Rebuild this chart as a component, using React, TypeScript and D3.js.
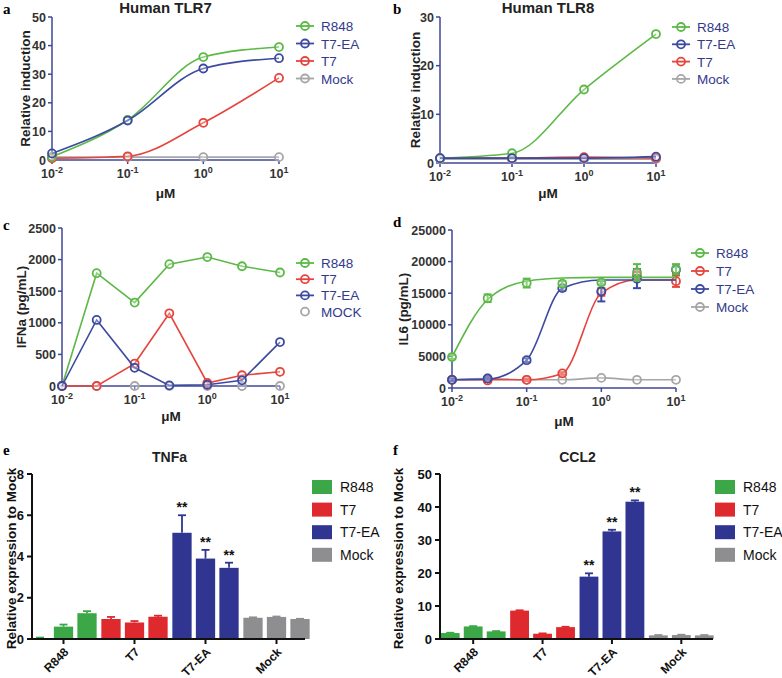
import React from 'react';
import * as d3 from 'd3';

// ---- data ----
const doseAB = [0.01, 0.1, 1, 10];
const tlr7R848 = [1.1, 14.0, 36.0, 39.5];
const tlr7T7EA = [2.3, 13.8, 32.0, 35.6];
const tlr7T7 = [0.6, 1.3, 13.0, 28.7];
const tlr7Mock = [1.0, 1.0, 1.0, 1.0];

const tlr8R848 = [1.0, 2.0, 15.1, 26.5];
const tlr8T7EA = [1.0, 1.0, 1.0, 1.3];
const tlr8T7 = [1.0, 1.0, 1.2, 1.0];
const tlr8Mock = [0.8, 0.8, 0.8, 0.8];

const doseCD = [0.01, 0.03, 0.1, 0.3, 1, 3, 10];
const ifnR848 = [0, 1785, 1320, 1928, 2040, 1895, 1796];
const ifnT7 = [0, 0, 355, 1150, 48, 170, 225];
const ifnT7EA = [0, 1045, 288, 10, 20, 90, 695];
const ifnMock = [0, 0, 0, 0, 0, 0, 0];

const il6R848 = [4900, 14200, 16600, 16500, 16700, 18300, 18800];
const il6R848Err = [300, 600, 700, 400, 300, 1300, 800];
const il6R848Fit = [4900, 14000, 16900, 17400, 17500, 17500, 17500];
const il6T7 = [1300, 1200, 1300, 2300, 15200, 17800, 16900];
const il6T7Err = [200, 200, 200, 200, 600, 600, 900];
const il6T7Fit = [1300, 1300, 1300, 2300, 15000, 17100, 17100];
const il6T7EA = [1300, 1500, 4400, 15800, 15300, 17300, 18700];
const il6T7EAErr = [200, 200, 300, 400, 1600, 1500, 500];
const il6T7EAFit = [1300, 1400, 4400, 15800, 17100, 17100, 17100];
const il6Mock = [1300, 1500, 1300, 1300, 1600, 1300, 1300];

const barGroups = ['R848', 'T7', 'T7-EA', 'Mock'];
const tnfValues = [[0.05, 0.6, 1.25], [0.97, 0.8, 1.08], [5.15, 3.9, 3.45], [1.03, 1.07, 0.97]];
const tnfErrors = [[0.02, 0.1, 0.1], [0.1, 0.07, 0.05], [0.85, 0.42, 0.25], [0.02, 0.02, 0.01]];
const ccl2Values = [[1.8, 3.8, 2.3], [8.6, 1.6, 3.6], [18.9, 32.6, 41.6], [1.1, 1.2, 1.1]];
const ccl2Errors = [[0.1, 0.1, 0.1], [0.1, 0.1, 0.1], [1.0, 0.5, 0.4], [0.1, 0.1, 0.1]];
const starGroup = 'T7-EA';

const yTicksA = [0, 10, 20, 30, 40, 50];
const yTicksB = [0, 10, 20, 30];
const yTicksC = [0, 500, 1000, 1500, 2000, 2500];
const yTicksD = [0, 5000, 10000, 15000, 20000, 25000];
const yTicksE = [0, 2, 4, 6, 8];
const yTicksF = [0, 10, 20, 30, 40, 50];
const xDecades = [0.01, 0.1, 1, 10];

// ---- style ----
const FONT = '"Liberation Sans", Arial, sans-serif';
const SERIF = '"Liberation Serif", "DejaVu Serif", serif';
const GREEN = '#5cb947';
const BLUE = '#3c4aa0';
const RED = '#e6453d';
const GRAY = '#a6a6a6';
const AXIS = '#3f4797';
const LEGEND_TEXT = '#323a8b';
const BAR_COLORS: Record<string, string> = {
  R848: '#3ba746',
  T7: '#de2a2f',
  'T7-EA': '#2f3591',
  Mock: '#8e8e90',
};

type Series = {
  name: string;
  color: string;
  x: number[];
  y: number[];
  err?: number[];
  fit?: number[];
  line?: boolean;
};

type LineProps = {
  x0: number;
  x1: number;
  yB: number;
  yT: number;
  yMax: number;
  yTicks: number[];
  title?: string;
  letter: string;
  letterX: number;
  letterY: number;
  ylabel: string;
  ylabelX: number;
  xlabelY: number;
  straight?: boolean;
  series: Series[];
  legend: { x: number; y: number; dy: number; items: Series[] };
};

const LinePanel = (p: LineProps) => {
  const xs = d3.scaleLog().domain([0.01, 10]).range([p.x0, p.x1]);
  const ys = d3.scaleLinear().domain([0, p.yMax]).range([p.yB, p.yT]);
  const line = d3
    .line<[number, number]>()
    .x((d) => xs(d[0]))
    .y((d) => ys(d[1]))
    .curve(p.straight ? d3.curveLinear : d3.curveMonotoneX);
  const cx = (p.x0 + p.x1) / 2;
  const cy = (p.yB + p.yT) / 2;

  return (
    <g fontFamily={FONT}>
      <text x={p.letterX} y={p.letterY} fontFamily={SERIF} fontWeight="bold" fontSize={15}>
        {p.letter}
      </text>
      {p.title && (
        <text x={cx} y={13} textAnchor="middle" fontWeight="bold" fontSize={15} fill="#222">
          {p.title}
        </text>
      )}
      {/* axes */}
      <line x1={p.x0} x2={p.x1} y1={p.yB} y2={p.yB} stroke={AXIS} strokeWidth={1.5} />
      <line x1={p.x0} x2={p.x0} y1={p.yB} y2={p.yT} stroke={AXIS} strokeWidth={1.5} />
      {p.yTicks.map((t) => (
        <g key={t}>
          <line x1={p.x0 - 4} x2={p.x0} y1={ys(t)} y2={ys(t)} stroke={AXIS} strokeWidth={1.5} />
          <text x={p.x0 - 6} y={ys(t) + 4.5} textAnchor="end" fontWeight="bold" fontSize={12.5} fill="#333">
            {t}
          </text>
        </g>
      ))}
      {xDecades.map((t) => (
        <g key={t}>
          <line x1={xs(t)} x2={xs(t)} y1={p.yB} y2={p.yB + 4} stroke={AXIS} strokeWidth={1.5} />
          <text x={xs(t)} y={p.yB + 18} textAnchor="middle" fontWeight="bold" fontSize={12.5} fill="#333">
            10
            <tspan dy={-5} fontSize={9}>
              {Math.round(Math.log10(t))}
            </tspan>
          </text>
        </g>
      ))}
      <text x={cx} y={p.xlabelY} textAnchor="middle" fontWeight="bold" fontSize={13.5} fill="#222">
        μM
      </text>
      <text
        transform={`translate(${p.ylabelX},${cy}) rotate(-90)`}
        textAnchor="middle"
        dominantBaseline="central"
        fontWeight="bold"
        fontSize={13.5}
        fill="#222"
      >
        {p.ylabel}
      </text>
      {/* series */}
      {p.series.map((s) => {
        const vals = s.fit ?? s.y;
        const pts: [number, number][] = s.x.map((x, i) => [x, vals[i]]);
        return (
          <g key={s.name}>
            {s.line !== false && (
              <path d={line(pts) ?? ''} fill="none" stroke={s.color} strokeWidth={1.6} />
            )}
            {s.err &&
              s.x.map((x, i) => (
                <g key={i} stroke={s.color} strokeWidth={2}>
                  <line x1={xs(x)} x2={xs(x)} y1={ys(s.y[i] - s.err![i])} y2={ys(s.y[i] + s.err![i])} />
                  <line x1={xs(x) - 4} x2={xs(x) + 4} y1={ys(s.y[i] + s.err![i])} y2={ys(s.y[i] + s.err![i])} />
                  <line x1={xs(x) - 4} x2={xs(x) + 4} y1={ys(s.y[i] - s.err![i])} y2={ys(s.y[i] - s.err![i])} />
                </g>
              ))}
            {s.x.map((x, i) => (
              <circle key={i} cx={xs(x)} cy={ys(s.y[i])} r={4} fill="white" fillOpacity={0.3} stroke={s.color} strokeWidth={1.8} />
            ))}
          </g>
        );
      })}
      {/* legend */}
      {p.legend.items.map((s, i) => {
        const y = p.legend.y + i * p.legend.dy;
        return (
          <g key={s.name}>
            {s.line !== false && (
              <line x1={p.legend.x} x2={p.legend.x + 18} y1={y} y2={y} stroke={s.color} strokeWidth={1.8} />
            )}
            <circle cx={p.legend.x + 9} cy={y} r={4} fill="none" stroke={s.color} strokeWidth={1.8} />
            <text x={p.legend.x + 25} y={y + 5} fontSize={13.5} fill={LEGEND_TEXT}>
              {s.name}
            </text>
          </g>
        );
      })}
    </g>
  );
};

type BarProps = {
  x0: number;
  x1: number;
  bandStart: number;
  bandEnd: number;
  yB: number;
  yT: number;
  yMax: number;
  yTicks: number[];
  title: string;
  letter: string;
  letterX: number;
  ylabelX: number;
  values: number[][];
  errors: number[][];
  legendX: number;
};

const BarPanel = (p: BarProps) => {
  const xg = d3.scaleBand().domain(barGroups).range([p.bandStart, p.bandEnd]).padding(0);
  const xi = d3
    .scaleBand<number>()
    .domain([0, 1, 2])
    .range([0, xg.bandwidth()])
    .paddingInner(0.18)
    .paddingOuter(0.1);
  const ys = d3.scaleLinear().domain([0, p.yMax]).range([p.yB, p.yT]);
  const bw = xi.bandwidth();
  return (
    <g fontFamily={FONT}>
      <text x={p.letterX} y={455} fontFamily={SERIF} fontWeight="bold" fontSize={15}>
        {p.letter}
      </text>
      <text x={(p.x0 + p.x1) / 2 + 1} y={462} textAnchor="middle" fontWeight="bold" fontSize={14} fill="#222">
        {p.title}
      </text>
      <text
        transform={`translate(${p.ylabelX},${(p.yB + p.yT) / 2 + 2}) rotate(-90)`}
        textAnchor="middle"
        dominantBaseline="central"
        fontWeight="bold"
        fontSize={13.5}
        fill="#111"
      >
        Relative expression to Mock
      </text>
      {barGroups.map((g, gi) =>
        p.values[gi].map((v, i) => {
          const x = (xg(g) ?? 0) + (xi(i) ?? 0);
          const top = ys(v + p.errors[gi][i]);
          const col = BAR_COLORS[g];
          return (
            <g key={`${g}${i}`}>
              <rect x={x} y={ys(v)} width={bw} height={p.yB - ys(v)} fill={col} />
              <line x1={x + bw / 2} x2={x + bw / 2} y1={ys(v)} y2={top} stroke={col} strokeWidth={1.8} />
              <line x1={x + bw / 2 - 4} x2={x + bw / 2 + 4} y1={top} y2={top} stroke={col} strokeWidth={1.8} />
              {g === starGroup && (
                <text x={x + bw / 2} y={top - 3} textAnchor="middle" fontWeight="bold" fontSize={14} fill="#111">
                  **
                </text>
              )}
            </g>
          );
        })
      )}
      <line x1={p.x0} x2={p.x1} y1={p.yB} y2={p.yB} stroke="#111" strokeWidth={2} />
      <line x1={p.x0} x2={p.x0} y1={p.yB} y2={p.yT} stroke="#111" strokeWidth={2} />
      {p.yTicks.map((t) => (
        <g key={t}>
          <line x1={p.x0 - 5} x2={p.x0} y1={ys(t)} y2={ys(t)} stroke="#111" strokeWidth={2} />
          <text x={p.x0 - 8} y={ys(t) + 4.5} textAnchor="end" fontWeight="bold" fontSize={13} fill="#111">
            {t}
          </text>
        </g>
      ))}
      {barGroups.map((g) => {
        const cx = (xg(g) ?? 0) + xg.bandwidth() / 2;
        return (
          <g key={g}>
            <line x1={cx} x2={cx} y1={p.yB} y2={p.yB + 5} stroke="#111" strokeWidth={2} />
            <text
              transform={`translate(${cx + 3},${p.yB + 11}) rotate(-45)`}
              textAnchor="end"
              dominantBaseline="central"
              fontWeight="bold"
              fontSize={12}
              fill="#111"
            >
              {g}
            </text>
          </g>
        );
      })}
      {barGroups.map((g, i) => (
        <g key={g}>
          <rect x={p.legendX} y={480 + i * 22.6} width={20} height={14} fill={BAR_COLORS[g]} />
          <text x={p.legendX + 28} y={492 + i * 22.6} fontSize={14} fill="#111">
            {g}
          </text>
        </g>
      ))}
    </g>
  );
};

const App = () => {
  const aSeries: Series[] = [
    { name: 'R848', color: GREEN, x: doseAB, y: tlr7R848 },
    { name: 'T7-EA', color: BLUE, x: doseAB, y: tlr7T7EA },
    { name: 'T7', color: RED, x: doseAB, y: tlr7T7 },
    { name: 'Mock', color: GRAY, x: doseAB, y: tlr7Mock },
  ];
  const bSeries: Series[] = [
    { name: 'R848', color: GREEN, x: doseAB, y: tlr8R848 },
    { name: 'T7-EA', color: BLUE, x: doseAB, y: tlr8T7EA },
    { name: 'T7', color: RED, x: doseAB, y: tlr8T7 },
    { name: 'Mock', color: GRAY, x: doseAB, y: tlr8Mock },
  ];
  const cSeries: Series[] = [
    { name: 'R848', color: GREEN, x: doseCD, y: ifnR848 },
    { name: 'T7', color: RED, x: doseCD, y: ifnT7 },
    { name: 'T7-EA', color: BLUE, x: doseCD, y: ifnT7EA },
    { name: 'MOCK', color: GRAY, x: doseCD, y: ifnMock, line: false },
  ];
  const dSeries: Series[] = [
    { name: 'R848', color: GREEN, x: doseCD, y: il6R848, err: il6R848Err, fit: il6R848Fit },
    { name: 'T7', color: RED, x: doseCD, y: il6T7, err: il6T7Err, fit: il6T7Fit },
    { name: 'T7-EA', color: BLUE, x: doseCD, y: il6T7EA, err: il6T7EAErr, fit: il6T7EAFit },
    { name: 'Mock', color: GRAY, x: doseCD, y: il6Mock },
  ];
  const order = (s: Series[], names: string[]) => names.map((n) => s.find((d) => d.name === n)!);

  return (
    <svg width={782} height={678} style={{ position: 'absolute', left: 0, top: 0, display: 'block' }}>
      <rect width={782} height={678} fill="white" />
      <LinePanel
        x0={52} x1={279} yB={160} yT={17} yMax={50} yTicks={yTicksA}
        title="Human TLR7" letter="a" letterX={3} letterY={14} ylabel="Relative induction" ylabelX={25} xlabelY={198}
        series={order(aSeries, ['Mock', 'T7', 'R848', 'T7-EA'])}
        legend={{ x: 296, y: 26, dy: 17.5, items: aSeries }}
      />
      <LinePanel
        x0={440} x1={656} yB={163} yT={17} yMax={30} yTicks={yTicksB}
        title="Human TLR8" letter="b" letterX={393} letterY={14} ylabel="Relative induction" ylabelX={415} xlabelY={198}
        series={order(bSeries, ['Mock', 'T7', 'R848', 'T7-EA'])}
        legend={{ x: 672, y: 27, dy: 17.3, items: bSeries }}
      />
      <LinePanel
        x0={62} x1={280} yB={386} yT={228} yMax={2500} yTicks={yTicksC}
        letter="c" letterX={3} letterY={230} ylabel="IFNa (pg/mL)" ylabelX={21} xlabelY={421}
        straight
        series={order(cSeries, ['MOCK', 'R848', 'T7', 'T7-EA'])}
        legend={{ x: 296, y: 263, dy: 16.2, items: cSeries }}
      />
      <LinePanel
        x0={452} x1={676} yB={388} yT={230} yMax={25000} yTicks={yTicksD}
        letter="d" letterX={393} letterY={227} ylabel="IL6 (pg/mL)" ylabelX={403} xlabelY={426}
        series={order(dSeries, ['Mock', 'T7', 'T7-EA', 'R848'])}
        legend={{ x: 691, y: 253, dy: 18, items: dSeries }}
      />
      <BarPanel
        x0={32} x1={305} bandStart={28} bandEnd={312} yB={639} yT={474} yMax={8} yTicks={yTicksE}
        title="TNFa" letter="e" letterX={3} ylabelX={11} values={tnfValues} errors={tnfErrors} legendX={312}
      />
      <BarPanel
        x0={440} x1={713} bandStart={438.5} bandEnd={716} yB={639} yT={474} yMax={50} yTicks={yTicksF}
        title="CCL2" letter="f" letterX={393} ylabelX={398} values={ccl2Values} errors={ccl2Errors} legendX={715}
      />
    </svg>
  );
};

export default App;
